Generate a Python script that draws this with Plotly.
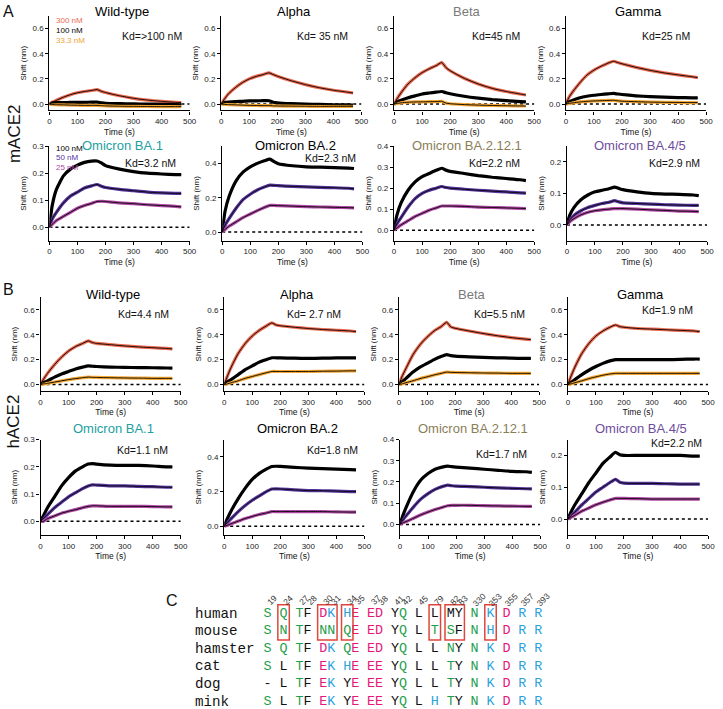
import plotly.graph_objects as go

W, H = 723, 709

# ---------------- data ----------------
T = [0, 10, 25, 50, 75, 100, 125, 150, 170, 185, 200, 250, 300, 350, 400, 450, 470]

# mACE2, row 1 (300 / 100 / 33.3 nM)
mWT_300 = [0, 0.015, 0.03, 0.055, 0.075, 0.09, 0.10, 0.108, 0.115, 0.102, 0.092, 0.066, 0.046, 0.032, 0.022, 0.014, 0.012]
mWT_100 = [0, 0.008, 0.012, 0.012, 0.013, 0.013, 0.014, 0.015, 0.015, 0.01, 0.006, 0.003, 0.001, 0.0, -0.002, -0.004, -0.005]
mWT_33 = [0, -0.003, -0.005, -0.006, -0.008, -0.009, -0.01, -0.01, -0.01, -0.012, -0.014, -0.017, -0.018, -0.019, -0.02, -0.02, -0.02]
mAl_300 = [0, 0.035, 0.08, 0.13, 0.17, 0.2, 0.22, 0.235, 0.248, 0.235, 0.222, 0.185, 0.155, 0.13, 0.11, 0.095, 0.088]
mAl_100 = [0, 0.01, 0.015, 0.02, 0.022, 0.025, 0.026, 0.027, 0.027, 0.015, 0.01, 0.003, 0.0, -0.003, -0.005, -0.006, -0.007]
mAl_33 = [0, -0.002, -0.004, -0.006, -0.008, -0.01, -0.011, -0.012, -0.012, -0.014, -0.015, -0.016, -0.017, -0.018, -0.018, -0.018, -0.018]
mBe_300 = [0, 0.04, 0.09, 0.16, 0.21, 0.25, 0.28, 0.305, 0.33, 0.29, 0.265, 0.205, 0.16, 0.125, 0.1, 0.08, 0.072]
mBe_100 = [0, 0.015, 0.03, 0.05, 0.065, 0.08, 0.088, 0.095, 0.1, 0.09, 0.082, 0.062, 0.047, 0.035, 0.027, 0.02, 0.017]
mBe_33 = [0, 0.005, 0.01, 0.015, 0.017, 0.018, 0.019, 0.02, 0.022, 0.008, 0.003, -0.004, -0.008, -0.011, -0.013, -0.015, -0.015]
mGa_300 = [0, 0.05, 0.1, 0.17, 0.23, 0.27, 0.3, 0.325, 0.34, 0.33, 0.32, 0.292, 0.268, 0.248, 0.232, 0.217, 0.21]
mGa_100 = [0, 0.015, 0.03, 0.05, 0.062, 0.07, 0.076, 0.081, 0.085, 0.08, 0.076, 0.066, 0.059, 0.055, 0.052, 0.05, 0.05]
mGa_33 = [0, 0.005, 0.01, 0.017, 0.022, 0.025, 0.027, 0.029, 0.03, 0.026, 0.023, 0.019, 0.016, 0.014, 0.013, 0.012, 0.012]

# mACE2, row 2 (100 / 50 / 25 nM)
mB1_100 = [0, 0.08, 0.14, 0.19, 0.215, 0.23, 0.24, 0.245, 0.245, 0.238, 0.228, 0.215, 0.206, 0.2, 0.197, 0.195, 0.195]
mB1_50 = [0, 0.03, 0.055, 0.09, 0.115, 0.13, 0.145, 0.153, 0.158, 0.152, 0.147, 0.14, 0.135, 0.13, 0.127, 0.125, 0.125]
mB1_25 = [0, 0.01, 0.025, 0.04, 0.055, 0.07, 0.08, 0.088, 0.095, 0.096, 0.095, 0.09, 0.087, 0.083, 0.08, 0.077, 0.075]
mB2_100 = [0, 0.12, 0.21, 0.3, 0.35, 0.38, 0.4, 0.415, 0.425, 0.41, 0.398, 0.386, 0.38, 0.378, 0.375, 0.372, 0.37]
mB2_50 = [0, 0.04, 0.08, 0.14, 0.19, 0.22, 0.245, 0.262, 0.273, 0.272, 0.27, 0.266, 0.263, 0.26, 0.258, 0.255, 0.252]
mB2_25 = [0, 0.015, 0.035, 0.06, 0.085, 0.105, 0.125, 0.143, 0.155, 0.155, 0.154, 0.151, 0.148, 0.146, 0.144, 0.142, 0.141]
mB12_100 = [0, 0.07, 0.13, 0.19, 0.23, 0.255, 0.27, 0.285, 0.295, 0.286, 0.28, 0.27, 0.26, 0.252, 0.246, 0.24, 0.236]
mB12_50 = [0, 0.03, 0.06, 0.11, 0.15, 0.175, 0.19, 0.2, 0.208, 0.203, 0.2, 0.195, 0.19, 0.186, 0.182, 0.178, 0.176]
mB12_25 = [0, 0.01, 0.025, 0.045, 0.065, 0.08, 0.095, 0.106, 0.115, 0.115, 0.115, 0.113, 0.11, 0.108, 0.106, 0.104, 0.103]
mB45_100 = [0, 0.03, 0.055, 0.08, 0.095, 0.105, 0.11, 0.115, 0.12, 0.116, 0.112, 0.105, 0.1, 0.098, 0.097, 0.095, 0.093]
mB45_50 = [0, 0.015, 0.03, 0.045, 0.055, 0.062, 0.068, 0.072, 0.077, 0.073, 0.07, 0.068, 0.066, 0.064, 0.063, 0.062, 0.062]
mB45_25 = [0, 0.01, 0.02, 0.032, 0.04, 0.045, 0.048, 0.05, 0.052, 0.052, 0.052, 0.05, 0.048, 0.046, 0.044, 0.043, 0.042]

# hACE2, row 3
hWT_300 = [0, 0.04, 0.09, 0.16, 0.22, 0.27, 0.305, 0.33, 0.35, 0.337, 0.33, 0.32, 0.31, 0.302, 0.296, 0.29, 0.286]
hWT_100 = [0, 0.015, 0.03, 0.06, 0.085, 0.105, 0.125, 0.14, 0.15, 0.147, 0.145, 0.14, 0.138, 0.136, 0.135, 0.133, 0.132]
hWT_33 = [0, 0.005, 0.01, 0.02, 0.03, 0.04, 0.048, 0.055, 0.06, 0.058, 0.057, 0.055, 0.053, 0.052, 0.05, 0.05, 0.05]
hAl_300 = [0, 0.06, 0.14, 0.25, 0.33, 0.39, 0.435, 0.47, 0.495, 0.478, 0.472, 0.46, 0.45, 0.442, 0.436, 0.43, 0.425]
hAl_100 = [0, 0.02, 0.04, 0.08, 0.12, 0.15, 0.18, 0.2, 0.215, 0.215, 0.214, 0.212, 0.21, 0.212, 0.214, 0.215, 0.215]
hAl_33 = [0, 0.005, 0.015, 0.03, 0.05, 0.065, 0.08, 0.095, 0.105, 0.105, 0.105, 0.105, 0.105, 0.107, 0.108, 0.11, 0.11]
hBe_300 = [0, 0.06, 0.13, 0.24, 0.32, 0.38, 0.43, 0.465, 0.5, 0.462, 0.452, 0.43, 0.41, 0.392, 0.377, 0.365, 0.36]
hBe_100 = [0, 0.02, 0.05, 0.1, 0.14, 0.17, 0.2, 0.225, 0.24, 0.232, 0.228, 0.222, 0.218, 0.215, 0.212, 0.21, 0.21]
hBe_33 = [0, 0.005, 0.015, 0.03, 0.048, 0.062, 0.077, 0.09, 0.1, 0.098, 0.097, 0.095, 0.093, 0.092, 0.09, 0.09, 0.09]
hGa_300 = [0, 0.06, 0.14, 0.25, 0.33, 0.39, 0.43, 0.46, 0.478, 0.465, 0.46, 0.45, 0.445, 0.44, 0.435, 0.43, 0.425]
hGa_100 = [0, 0.015, 0.04, 0.08, 0.115, 0.145, 0.17, 0.19, 0.2, 0.2, 0.2, 0.2, 0.2, 0.2, 0.202, 0.205, 0.205]
hGa_33 = [0, 0.005, 0.015, 0.03, 0.048, 0.062, 0.075, 0.085, 0.09, 0.09, 0.09, 0.09, 0.09, 0.09, 0.09, 0.09, 0.09]

# hACE2, row 4
hB1_100 = [0, 0.02, 0.05, 0.09, 0.13, 0.16, 0.185, 0.2, 0.21, 0.212, 0.21, 0.206, 0.205, 0.205, 0.203, 0.2, 0.2]
hB1_50 = [0, 0.01, 0.025, 0.05, 0.07, 0.09, 0.105, 0.12, 0.13, 0.134, 0.133, 0.13, 0.13, 0.128, 0.127, 0.125, 0.125]
hB1_25 = [0, 0.0, 0.01, 0.02, 0.03, 0.037, 0.043, 0.05, 0.055, 0.057, 0.057, 0.055, 0.055, 0.055, 0.054, 0.053, 0.053]
hB2_100 = [0, 0.04, 0.09, 0.16, 0.22, 0.27, 0.305, 0.33, 0.345, 0.346, 0.345, 0.34, 0.335, 0.332, 0.33, 0.327, 0.325]
hB2_50 = [0, 0.02, 0.045, 0.085, 0.12, 0.15, 0.175, 0.2, 0.215, 0.216, 0.215, 0.21, 0.206, 0.205, 0.203, 0.2, 0.2]
hB2_25 = [0, 0.005, 0.015, 0.03, 0.045, 0.057, 0.068, 0.077, 0.085, 0.085, 0.085, 0.085, 0.085, 0.085, 0.083, 0.082, 0.082]
hB12_100 = [0, 0.04, 0.09, 0.16, 0.21, 0.24, 0.26, 0.27, 0.275, 0.272, 0.27, 0.265, 0.26, 0.255, 0.25, 0.248, 0.245]
hB12_50 = [0, 0.02, 0.045, 0.085, 0.12, 0.145, 0.165, 0.178, 0.185, 0.182, 0.18, 0.178, 0.175, 0.172, 0.17, 0.168, 0.167]
hB12_25 = [0, 0.007, 0.015, 0.03, 0.045, 0.058, 0.07, 0.08, 0.088, 0.09, 0.09, 0.09, 0.088, 0.087, 0.086, 0.085, 0.085]
hB45_100 = [0, 0.02, 0.045, 0.08, 0.115, 0.145, 0.175, 0.195, 0.21, 0.202, 0.2, 0.2, 0.2, 0.2, 0.2, 0.198, 0.198]
hB45_50 = [0, 0.01, 0.022, 0.045, 0.065, 0.085, 0.1, 0.115, 0.125, 0.116, 0.113, 0.112, 0.112, 0.111, 0.11, 0.11, 0.11]
hB45_25 = [0, 0.005, 0.012, 0.025, 0.035, 0.045, 0.053, 0.06, 0.065, 0.065, 0.065, 0.064, 0.063, 0.063, 0.063, 0.063, 0.063]

titles = ["Wild-type", "Alpha", "Beta", "Gamma",
          "Omicron BA.1", "Omicron BA.2", "Omicron BA.2.12.1", "Omicron BA.4/5",
          "Wild-type", "Alpha", "Beta", "Gamma",
          "Omicron BA.1", "Omicron BA.2", "Omicron BA.2.12.1", "Omicron BA.4/5"]
kd_labels = ["Kd=>100 nM", "Kd= 35 nM", "Kd=45 nM", "Kd=25 nM",
             "Kd=3.2 nM", "Kd=2.3 nM", "Kd=2.2 nM", "Kd=2.9 nM",
             "Kd=4.4 nM", "Kd= 2.7 nM", "Kd=5.5 nM", "Kd=1.9 nM",
             "Kd=1.1 nM", "Kd=1.8 nM", "Kd=1.7 nM", "Kd=2.2 nM"]
conc_hi = ["300 nM", "100 nM", "33.3 nM"]
conc_lo = ["100 nM", "50 nM", "25 nM"]

# alignment
positions = ["19", "24", "27", "28", "30", "31", "34", "35", "37", "38", "41", "42", "45",
             "79", "82", "83", "330", "353", "355", "357", "393"]
species = ["human", "mouse", "hamster", "cat", "dog", "mink"]
residues = ["SQTFDKHEEDYQLLMYNKDRR",
            "SNTFNNQEEDYQLTSFNHDRR",
            "SQTFDKQEEDYQLLNYNKDRR",
            "SLTFEKHEEEYQLLTYNKDRR",
            "-LTFEKYEEEYQLLTYNKDRR",
            "SLTFEKYEEEYQLHTYNKDRR"]
res_colors = ["gggkmbbmmmkgkkkkgbmbb",
              "gggkgggmmmkgkggkgbmbb",
              "gggkmbgmmmkgkkgkgbmbb",
              "gkgkmbbmmmkgkkgkgbmbb",
              "kkgkmbkmmmkgkkgkgbmbb",
              "gkgkmbkmmmkgkbgkgbmbb"]
col_char = [0, 2, 4, 5, 7, 8, 10, 11, 13, 14, 16, 17, 19, 21, 23, 24, 26, 28, 30, 32, 34]
boxed_cols = [[1], [4, 5], [6], [13], [14, 15], [17]]

# ---------------- styling ----------------
C300, C100, C33 = "#EA6A50", "#000000", "#F2A533"
C50, C25 = "#55349A", "#B04AA5"
title_colors = ["#000", "#000", "#7A7A7A", "#000", "#22A0A0", "#000", "#8A7D56", "#6F4D9E"] * 2
FONT = "Liberation Sans, Arial, sans-serif"
MONO = "Liberation Mono, Courier New, monospace"
RES_COL = {"g": "#1F9E4B", "k": "#111111", "m": "#E5177B", "b": "#2BA3DC"}

series = [
    [mWT_300, mWT_100, mWT_33], [mAl_300, mAl_100, mAl_33], [mBe_300, mBe_100, mBe_33], [mGa_300, mGa_100, mGa_33],
    [mB1_100, mB1_50, mB1_25], [mB2_100, mB2_50, mB2_25], [mB12_100, mB12_50, mB12_25], [mB45_100, mB45_50, mB45_25],
    [hWT_300, hWT_100, hWT_33], [hAl_300, hAl_100, hAl_33], [hBe_300, hBe_100, hBe_33], [hGa_300, hGa_100, hGa_33],
    [hB1_100, hB1_50, hB1_25], [hB2_100, hB2_50, hB2_25], [hB12_100, hB12_50, hB12_25], [hB45_100, hB45_50, hB45_25],
]
row_colors = [[C300, C100, C33], [C100, C50, C25], [C300, C100, C33], [C100, C50, C25]]

rows_px = [(12, 107), (143, 238), (295, 389), (438, 534)]
cols_px = [[48, 222, 397, 571], [48, 223, 397, 572], [39, 225, 402, 573], [39, 225, 403, 573]]
PW = 142
title_y_px = [8, 142, 292, 427]
yticks = {"A": [0, 0.2, 0.4, 0.6], "B1": [0, 0.1, 0.2, 0.3], "B2": [0, 0.2, 0.4],
          "B12": [0, 0.1, 0.2, 0.3, 0.4], "B45": [0, 0.1, 0.2]}
omi_range = [([-0.05, 0.3], "B1"), ([-0.05, 0.5], "B2"), ([-0.05, 0.4], "B12"), ([-0.05, 0.25], "B45")]
kd_pos = [(0.96, 0.79), (0.92, 0.79), (0.91, 0.79), (0.90, 0.79),
          (0.92, 0.82), (0.97, 0.87), (0.91, 0.82), (0.965, 0.82),
          (0.93, 0.82), (0.85, 0.82), (0.91, 0.82), (0.91, 0.86),
          (0.92, 0.89), (0.97, 0.89), (0.92, 0.85), (0.97, 0.965)]

fig = go.Figure()
layout = {}
annotations = []
shapes = []

for i in range(16):
    r, c = divmod(i, 4)
    n = "" if i == 0 else str(i + 1)
    xa, ya = "x" + n, "y" + n
    top, bot = rows_px[r]
    x0 = cols_px[r][c]
    if r in (0, 2):
        yr, yt = [-0.05, 0.7], yticks["A"]
    else:
        yr, yk = omi_range[c]
        yt = yticks[yk]
    layout["xaxis" + n] = dict(
        domain=[x0 / W, (x0 + PW) / W], range=[0, 500], anchor=ya,
        tickvals=[0, 100, 200, 300, 400, 500], ticks="outside", ticklen=3, tickwidth=1,
        tickcolor="#000", showline=True, linecolor="#000", linewidth=1.3,
        showgrid=False, zeroline=False, tickfont=dict(size=8, family=FONT, color="#222"),
        title=dict(text="Time (s)", font=dict(size=8.5, family=FONT, color="#111"), standoff=3),
        fixedrange=True)
    layout["yaxis" + n] = dict(
        domain=[1 - bot / H, 1 - top / H], range=yr, anchor=xa,
        tickvals=yt, tickformat=".1f", ticks="outside", ticklen=3, tickwidth=1,
        tickcolor="#000", showline=True, linecolor="#000", linewidth=1.3,
        showgrid=False, zeroline=False, tickfont=dict(size=8, family=FONT, color="#222"),
        title=dict(text="Shift (nm)", font=dict(size=8, family=FONT, color="#111"), standoff=4),
        fixedrange=True)
    shapes.append(dict(type="line", xref=xa, yref=ya, x0=0, x1=500, y0=0, y1=0,
                       line=dict(color="#000", width=1.5, dash="dot"), layer="below"))
    for vals, col in zip(series[i], row_colors[r]):
        fig.add_trace(go.Scatter(x=T, y=vals, xaxis=xa, yaxis=ya, mode="lines",
                                 line=dict(color=col, width=3.2, shape="spline", smoothing=0.5),
                                 showlegend=False, hoverinfo="skip"))
    for vals in series[i]:
        fig.add_trace(go.Scatter(x=T, y=vals, xaxis=xa, yaxis=ya, mode="lines",
                                 line=dict(color="#000", width=0.9, shape="spline", smoothing=0.5),
                                 showlegend=False, hoverinfo="skip"))
    annotations.append(dict(text=titles[i], xref=xa + " domain", x=0.52, yref="paper",
                            y=1 - title_y_px[r] / H, xanchor="center", yanchor="middle",
                            showarrow=False, font=dict(size=13, family=FONT, color=title_colors[i])))
    kx, ky = kd_pos[i]
    annotations.append(dict(text=kd_labels[i], xref=xa + " domain", yref=ya + " domain",
                            x=kx, y=ky, xanchor="right", yanchor="middle", showarrow=False,
                            font=dict(size=10.5, family=FONT, color="#111")))

# concentration legends
for k, (lab, col) in enumerate(zip(conc_hi, row_colors[0])):
    annotations.append(dict(text=lab, xref="paper", yref="paper", x=53 / W, y=1 - (17 + 10 * k) / H,
                            xanchor="left", yanchor="middle", showarrow=False,
                            font=dict(size=8, family=FONT, color=col)))
for k, (lab, col) in enumerate(zip(conc_lo, row_colors[1])):
    annotations.append(dict(text=lab, xref="paper", yref="paper", x=53 / W, y=1 - (145 + 9.5 * k) / H,
                            xanchor="left", yanchor="middle", showarrow=False,
                            font=dict(size=8, family=FONT, color=col)))

# panel labels
for lab, px, py in [("A", 7, 8), ("B", 7, 287), ("C", 172, 600)]:
    annotations.append(dict(text=lab, xref="paper", yref="paper", x=px / W, y=1 - py / H,
                            xanchor="center", yanchor="middle", showarrow=False,
                            font=dict(size=16, family=FONT, color="#111")))
for lab, py in [("mACE2", 130), ("hACE2", 420)]:
    annotations.append(dict(text=lab, xref="paper", yref="paper", x=12 / W, y=1 - py / H,
                            xanchor="center", yanchor="middle", showarrow=False, textangle=-90,
                            font=dict(size=17, family=FONT, color="#111")))

# ---------------- alignment (panel C) ----------------
CW = 8.06   # px per character column
X0PX = 269  # px centre of first column
RH = 17.7   # px per row
Y0PX = 613
ax_l, ax_r, ax_t, ax_b = 180, 560, 590, 709
layout["xaxis17"] = dict(domain=[ax_l / W, ax_r / W], range=[-(X0PX - ax_l) / CW, (ax_r - X0PX) / CW],
                         visible=False, anchor="y17", fixedrange=True)
layout["yaxis17"] = dict(domain=[1 - ax_b / H, 1 - ax_t / H], range=[(ax_b - Y0PX) / RH, -(Y0PX - ax_t) / RH],
                         visible=False, anchor="x17", fixedrange=True)
xs, ys, txt, cols = [], [], [], []
for rr, (seq, cc) in enumerate(zip(residues, res_colors)):
    for j, (aa, code) in enumerate(zip(seq, cc)):
        xs.append(col_char[j]); ys.append(rr); txt.append(aa); cols.append(RES_COL[code])
fig.add_trace(go.Scatter(x=xs, y=ys, text=txt, mode="text", xaxis="x17", yaxis="y17",
                         textfont=dict(family=MONO, size=13.4, color=cols), textposition="middle center",
                         showlegend=False, hoverinfo="skip", cliponaxis=False))
for rr, name in enumerate(species):
    annotations.append(dict(text=name, xref="x17", yref="y17", x=(193 - X0PX) / CW, y=rr,
                            xanchor="left", yanchor="middle", showarrow=False,
                            font=dict(size=14.2, family=MONO, color="#111")))
for j, p in enumerate(positions):
    annotations.append(dict(text=p, xref="x17", yref="y17", x=col_char[j] + 0.55, y=-0.78,
                            xanchor="center", yanchor="middle", showarrow=False, textangle=-45,
                            font=dict(size=8.5, family=FONT, color="#333")))
for grp in boxed_cols:
    shapes.append(dict(type="rect", xref="x17", yref="y17",
                       x0=col_char[grp[0]] - 0.72, x1=col_char[grp[-1]] + 0.72, y0=-0.5, y1=1.5,
                       line=dict(color="#E0463C", width=1.5)))

fig.update_layout(width=W, height=H, margin=dict(l=0, r=0, t=0, b=0),
                  paper_bgcolor="white", plot_bgcolor="white",
                  annotations=annotations, shapes=shapes, **layout)
fig.write_html("out.html", config={"displayModeBar": False},
               post_script="document.documentElement.style.margin='0';document.body.style.margin='0';document.body.style.padding='0';")
